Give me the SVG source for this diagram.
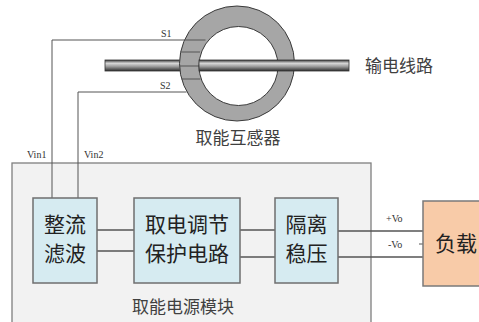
<svg xmlns="http://www.w3.org/2000/svg" width="479" height="322" viewBox="0 0 479 322">
  <defs>
    <linearGradient id="rodGrad" x1="0" y1="0" x2="0" y2="1">
      <stop offset="0" stop-color="#3a3a3a"/>
      <stop offset="0.3" stop-color="#d8d8d8"/>
      <stop offset="0.6" stop-color="#9a9a9a"/>
      <stop offset="1" stop-color="#2e2e2e"/>
    </linearGradient>
    <style>
      .wire { stroke: #555; stroke-width: 1; fill: none; }
      .link { stroke: #555; stroke-width: 1.3; fill: none; }
      .block { fill: #d6ebf1; stroke: #6f6f6f; stroke-width: 1.5; }
      .load { fill: #f8cba8; stroke: #7a7a7a; stroke-width: 1.5; }
      .rod { fill: url(#rodGrad); stroke: #333; stroke-width: 0.8; }
      .small { font-family: "Liberation Serif", serif; font-size: 10px; fill: #333; }
      .cn { font-family: "Noto Sans CJK SC", sans-serif; fill: #404040; }
      .blk { font-family: "Noto Sans CJK SC", sans-serif; font-size: 21px; fill: #222; text-anchor: middle; }
    </style>
  </defs>

  <!-- module enclosure -->
  <g id="module">
    <rect x="12" y="163" width="359" height="170" fill="#f2f2f2" stroke="#7f7f7f" stroke-width="1.3"/>
    <text class="cn" x="183" y="313" font-size="17" text-anchor="middle">取能电源模块</text>
  </g>

  <!-- transmission line (part behind the core) -->
  <g id="line">
    <rect class="rod" x="105" y="60" width="85" height="11"/>
    <text class="cn" x="365" y="72" font-size="17">输电线路</text>
  </g>

  <!-- energy-harvesting transformer core -->
  <g id="ct">
    <path d="M179.5 63.5a57.5 57.5 0 1 0 115 0a57.5 57.5 0 1 0 -115 0Z M199 66a39.5 39.5 0 1 0 79 0a39.5 39.5 0 1 0 -79 0Z"
          fill="#a6a6a6" fill-rule="evenodd" stroke="#3a3a3a" stroke-width="1"/>
    <!-- winding turns -->
    <line class="wire" x1="181" y1="52" x2="200" y2="52"/>
    <line class="wire" x1="180" y1="66" x2="199" y2="66"/>
    <line class="wire" x1="181.5" y1="79" x2="200.5" y2="79"/>
    <text class="cn" x="238" y="144" font-size="17" text-anchor="middle">取能互感器</text>
  </g>

  <!-- transmission line (part in front of the core) -->
  <rect class="rod" x="199" y="60" width="150" height="11"/>

  <!-- connectors -->
  <g id="connectors">
    <polyline class="wire" points="205.5,40 52,40 52,198"/>
    <polyline class="wire" points="186.5,92 78,92 78,198"/>
    <line class="link" x1="97" y1="230" x2="134" y2="230"/>
    <line class="link" x1="97" y1="251" x2="134" y2="251"/>
    <line class="link" x1="240" y1="230" x2="275" y2="230"/>
    <line class="link" x1="240" y1="257" x2="275" y2="257"/>
    <line class="link" x1="338" y1="231" x2="423" y2="231"/>
    <line class="link" x1="338" y1="257" x2="423" y2="257"/>
    <line class="wire" x1="419" y1="244" x2="423" y2="244"/>
    <text class="small" x="161" y="37">S1</text>
    <text class="small" x="160" y="89">S2</text>
    <text class="small" x="27" y="158">Vin1</text>
    <text class="small" x="84" y="158">Vin2</text>
    <text class="small" x="386" y="222">+Vo</text>
    <text class="small" x="388" y="248">-Vo</text>
  </g>

  <g id="rectifier">
    <rect class="block" x="33" y="198" width="64" height="85"/>
    <text class="blk" x="65" y="232">整流</text>
    <text class="blk" x="65" y="261">滤波</text>
  </g>

  <g id="regulator">
    <rect class="block" x="134" y="198" width="106" height="85"/>
    <text class="blk" x="187" y="232">取电调节</text>
    <text class="blk" x="187" y="261">保护电路</text>
  </g>

  <g id="isolator">
    <rect class="block" x="275" y="198" width="63" height="85"/>
    <text class="blk" x="306.5" y="232">隔离</text>
    <text class="blk" x="306.5" y="261">稳压</text>
  </g>

  <g id="load">
    <rect class="load" x="423" y="201" width="70" height="85"/>
    <text class="blk" x="456" y="251" font-size="22">负载</text>
  </g>
</svg>
